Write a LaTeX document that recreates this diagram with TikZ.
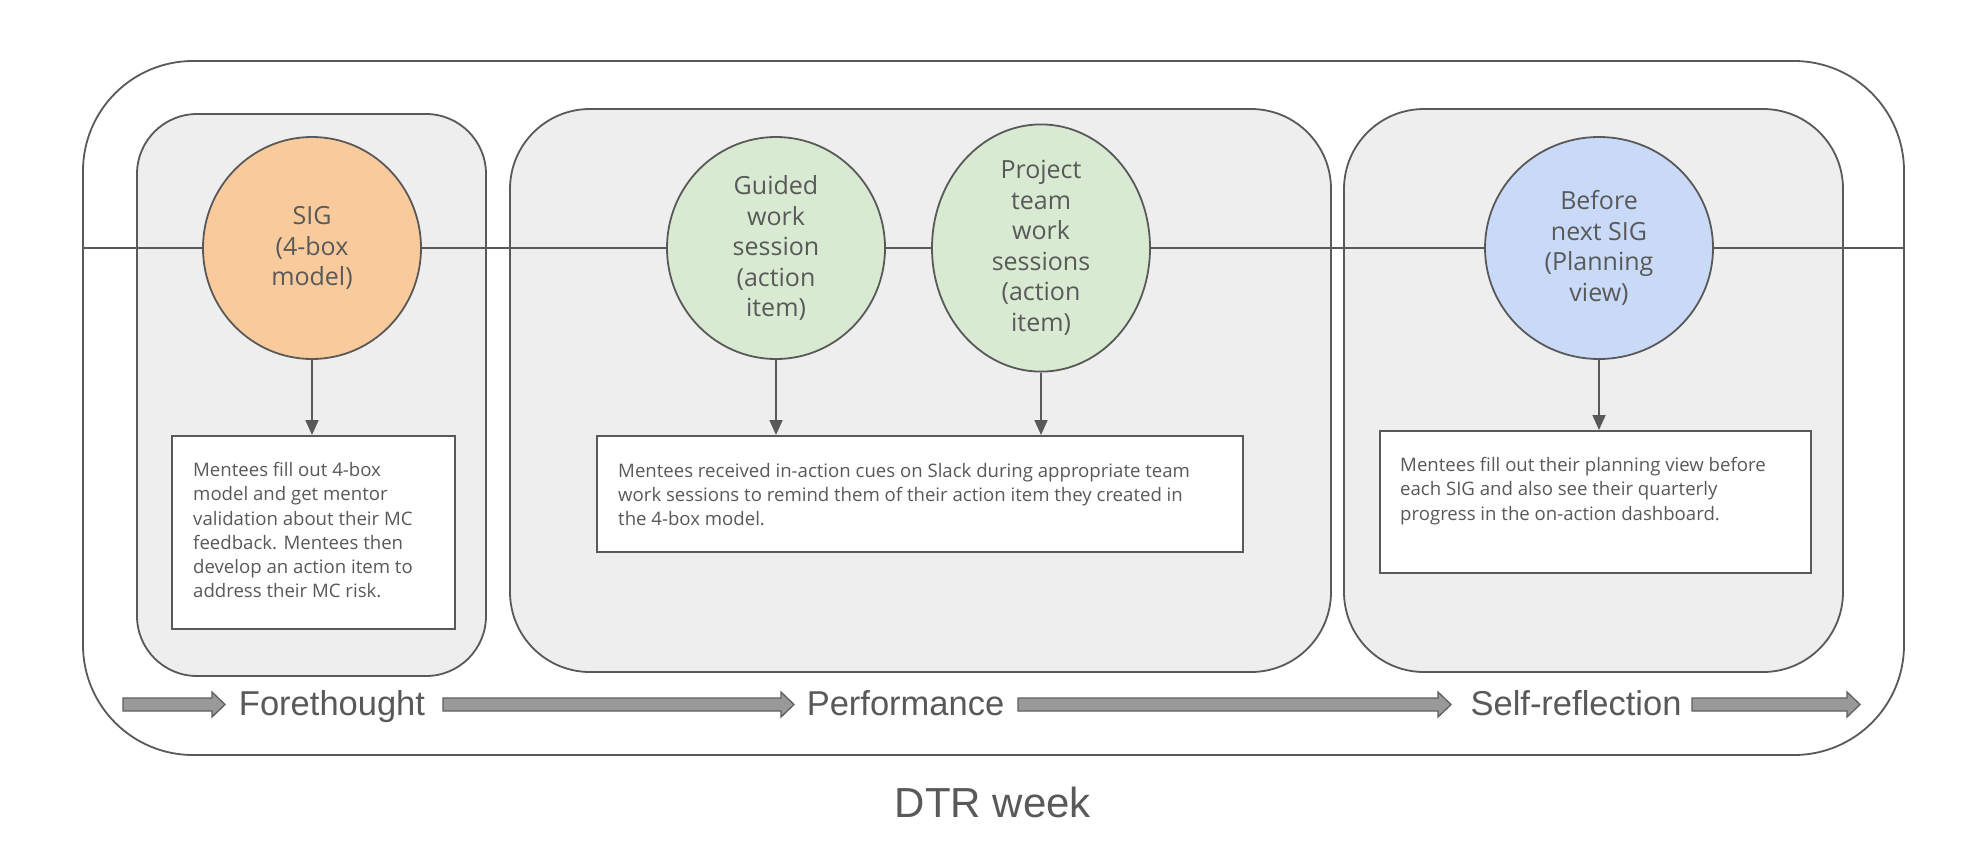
\documentclass[tikz,border=0pt]{standalone}
\usepackage{fontspec}
\setmainfont{Open Sans}
\newfontfamily\arialf{Liberation Sans}
\usetikzlibrary{shapes.geometric,arrows.meta}
\definecolor{ink}{HTML}{595959}
\definecolor{panelgray}{HTML}{EEEEEE}
\definecolor{sigorange}{HTML}{F9CB9C}
\definecolor{sessgreen}{HTML}{D9EAD3}
\definecolor{planblue}{HTML}{C9DAF8}
\definecolor{arrowgray}{HTML}{999999}
\definecolor{arrowedge}{HTML}{5F5F5F}
\newcommand\myblockarrow[2]{%
  \filldraw[fill=arrowgray, draw=arrowedge, line width=1.3pt, line join=miter]
    (#1,698) -- ({#2-13},698) -- ({#2-13},692) -- (#2,704.5) -- ({#2-13},717) -- ({#2-13},711) -- (#1,711) -- cycle;}
\begin{document}
\begin{tikzpicture}[x=1pt,y=-1pt,
  line/.style={draw=ink, line width=1.8pt},
  outerbox/.style={draw=ink, line width=1.8pt, fill=white, rounded corners=110pt},
  panel/.style={draw=ink, line width=1.8pt, fill=panelgray},
  phase/.style={ellipse, draw=ink, line width=1.8pt, inner sep=0pt, minimum width=218pt, minimum height=222pt, text=ink, align=center, font=\fontsize{25}{30.5}\selectfont},
  notebox/.style={rectangle, draw=ink, line width=1.8pt, fill=white, inner sep=0pt, anchor=north west},
  notetext/.style={text=ink, align=left, inner sep=0pt, anchor=north west, font=\fontsize{18.6}{24.3}\selectfont},
  stage/.style={text=ink, anchor=base, inner sep=0pt, font=\arialf\fontsize{34.5}{38}\selectfont},
  link/.style={draw=ink, line width=1.8pt, -{Triangle[length=15pt,width=13pt]}}
]
\useasboundingbox (0,0) rectangle (1972,852);
% outer container
\draw[outerbox] (83,61) rectangle (1904,755);
% phase panels
\draw[panel, rounded corners=60pt] (137,114) rectangle (486,676);
\draw[panel, rounded corners=80pt] (510,109) rectangle (1331,672);
\draw[panel, rounded corners=80pt] (1344,109) rectangle (1843,672);
% timeline
\coordinate (tl0) at (83,248);
\coordinate (tl1) at (1905,248);
\node[phase, fill=sigorange] (sig) at (312,248) {SIG\\(4-box\\model)};
\node[phase, fill=sessgreen] (gw) at (776,248) {Guided\\work\\session\\(action\\item)};
\node[phase, fill=sessgreen] (pt) at (1041,248) {Project\\team\\work\\sessions\\(action\\item)};
\node[phase, fill=planblue, minimum width=228pt] (bn) at (1599,248) {Before\\next SIG\\(Planning\\view)};
\draw[line] (tl0) -- (sig);
\draw[line] (sig) -- (gw);
\draw[line] (gw) -- (pt);
\draw[line] (pt) -- (bn);
\draw[line] (bn) -- (tl1);
% note boxes
\node[notebox, minimum width=283pt, minimum height=193pt] (n1) at (171,435) {};
\node[notetext] at ([xshift=22pt,yshift=-27pt]n1.north west) {Mentees fill out 4-box\\model and get mentor\\validation about their MC\\feedback. Mentees then\\develop an action item to\\address their MC risk.};
\node[notebox, minimum width=646pt, minimum height=116pt] (n2) at (596,435) {};
\node[notetext] at ([xshift=22pt,yshift=-28pt]n2.north west) {Mentees received in-action cues on Slack during appropriate team\\work sessions to remind them of their action item they created in\\the 4-box model.};
\node[notebox, minimum width=431pt, minimum height=142pt] (n3) at (1379,430) {};
\node[notetext] at ([xshift=21pt,yshift=-27pt]n3.north west) {Mentees fill out their planning view before\\each SIG and also see their quarterly\\progress in the on-action dashboard.};
% connectors
\draw[link] (sig.south) -- (sig.south |- n1.north);
\draw[link] (gw.south) -- (gw.south |- n2.north);
\draw[link] (pt.south) -- (pt.south |- n2.north);
\draw[link] (bn.south) -- (bn.south |- n3.north);
% stage labels and block arrows
\myblockarrow{123}{225}
\node[stage] (fore) at (332,715) {Forethought};
\myblockarrow{443}{794}
\node[stage] (perf) at (905.5,715) {Performance};
\myblockarrow{1018}{1451}
\node[stage] (self) at (1576,715) {Self-reflection};
\myblockarrow{1692}{1860}
\node[text=ink, anchor=base, inner sep=0pt, font=\arialf\fontsize{42}{46}\selectfont] (dtr) at (993,817) {DTR week};
\end{tikzpicture}
\end{document}
